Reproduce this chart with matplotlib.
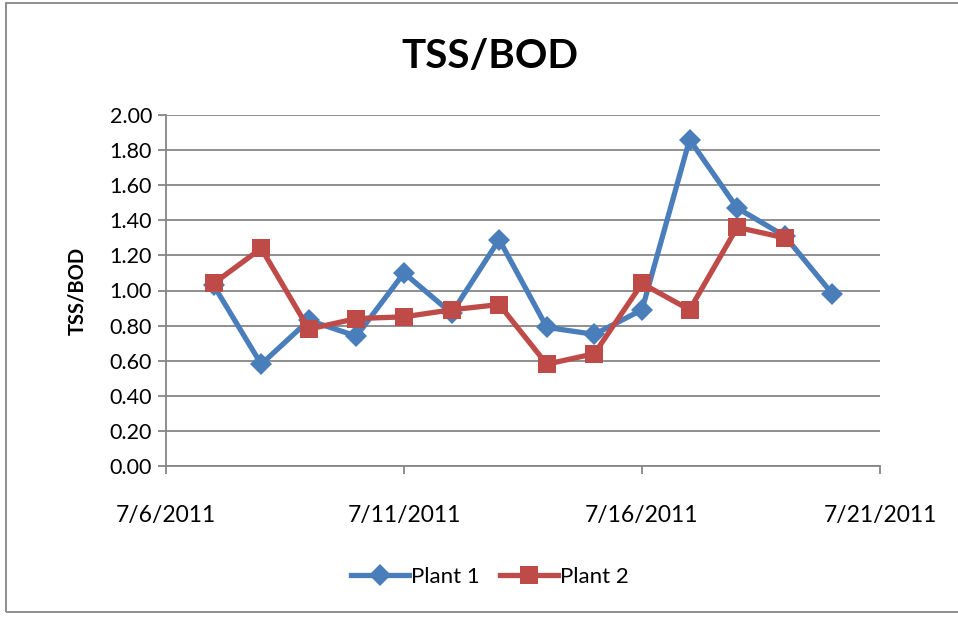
import matplotlib
matplotlib.use('Agg')
import matplotlib.pyplot as plt
import matplotlib.patches as patches
from datetime import date, timedelta

plt.rcParams['font.family'] = ['Lato', 'DejaVu Sans']

# TSS/BOD ratios by sampling day
p1_dates = [date(2011, 7, d) for d in range(7, 21)]
p1_vals = [1.03, 0.58, 0.83, 0.74, 1.10, 0.87, 1.29, 0.79, 0.75, 0.89, 1.86, 1.47, 1.31, 0.98]
p2_dates = [date(2011, 7, d) for d in range(7, 20)]
p2_vals = [1.04, 1.24, 0.78, 0.84, 0.85, 0.89, 0.92, 0.58, 0.64, 1.04, 0.89, 1.36, 1.30]

blue = '#4A7EBB'
red = '#BE4B48'
gray = '#868686'

fig = plt.figure(figsize=(9.58, 6.17), dpi=100)
ax = fig.add_axes([166/958, 1 - 466/617, (880 - 166)/958, (466 - 115)/617])

ax.plot(p1_dates, p1_vals, color=blue, lw=3.8, marker='D', ms=11,
        markeredgewidth=0, label='Plant 1', zorder=3)
ax.plot(p2_dates, p2_vals, color=red, lw=3.8, marker='s', ms=13.5,
        markeredgewidth=0, label='Plant 2', zorder=4)

ax.set_ylim(0, 2.0)
ax.set_yticks([i * 0.2 for i in range(11)])
ax.set_yticklabels([f'{i * 0.2:.2f}' for i in range(11)], fontsize=15.5)
ax.set_xlim(date(2011, 7, 6), date(2011, 7, 21))
xt = [date(2011, 7, 6) + timedelta(days=5 * i) for i in range(4)]
ax.set_xticks(xt)
ax.set_xticklabels([f'{d.month}/{d.day}/{d.year}' for d in xt], fontsize=16.5)

ax.grid(axis='y', color=gray, lw=1.3)
ax.set_axisbelow(True)
for s in ['top', 'right']:
    ax.spines[s].set_visible(False)
for s in ['left', 'bottom']:
    ax.spines[s].set_color(gray)
    ax.spines[s].set_linewidth(1.3)
ax.tick_params(axis='both', direction='out', color=gray, width=1.3, length=6)
ax.tick_params(axis='x', pad=22)
ax.tick_params(axis='y', pad=4)

ax.set_ylabel('TSS/BOD', fontsize=14.5, fontweight='bold', labelpad=16)
fig.text(490/958, 1 - 56/617, 'TSS/BOD', ha='center', va='center',
         fontsize=29, fontweight='bold')

fig.legend(loc='center', bbox_to_anchor=(490/958, 1 - 577/617), ncol=2, frameon=False,
           fontsize=16, handlelength=2.6, columnspacing=0.9, handletextpad=0.1)

# chart area border
fig.patches.append(patches.Rectangle((6/958, 1 - 612/617), 960/958, 609/617,
                                     transform=fig.transFigure, fill=False,
                                     edgecolor=gray, lw=1.3))

fig.savefig('out.png', dpi=100, facecolor='white')
